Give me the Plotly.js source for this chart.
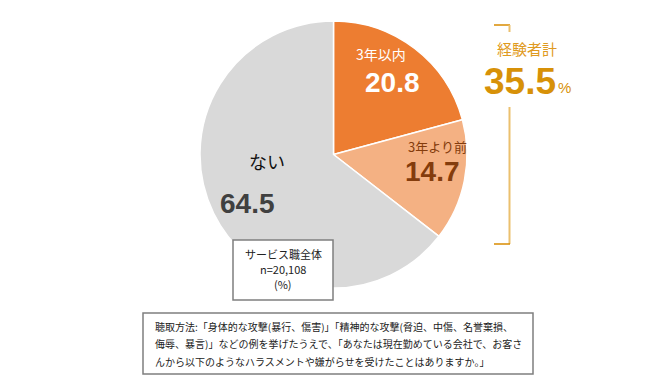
<!DOCTYPE html>
<html>
<head>
<meta charset="utf-8">
<script src="https://cdn.plot.ly/plotly-3.0.1.min.js"></script>
<style>html,body{margin:0;padding:0;background:#fff;}#chart{width:672px;height:390px;}</style>
</head>
<body>
<div id="chart"></div>
<script>
const categories = ['3年以内', '3年より前', 'ない'];
const values = [20.8, 14.7, 64.5];
const sliceColors = ['#ED7D31', '#F4B183', '#D9D9D9'];
const totalLabel = '経験者計';
const sampleLines = ['サービス職全体', 'n=20,108', '(%)'];
const noteLines = [
  '聴取方法:「身体的な攻撃(暴行、傷害)」「精神的な攻撃(脅迫、中傷、名誉棄損、',
  '侮辱、暴言)」などの例を挙げたうえで、「あなたは現在勤めている会社で、お客さ',
  'んから以下のようなハラスメントや嫌がらせを受けたことはありますか。」'
];

const W = 672, H = 390;
const px = x => x / W;
const py = y => 1 - y / H;
const JP = '"Noto Sans CJK JP", "Noto Sans", sans-serif';
const NUM = '"Liberation Sans", Arial, sans-serif';

const total = (values[0] + values[1]).toFixed(1);

const cx = 333.5, cy = 154.5, r = 133.5;

const trace = {
  type: 'pie',
  labels: categories,
  values: values,
  sort: false,
  direction: 'clockwise',
  rotation: 0,
  textinfo: 'none',
  hoverinfo: 'skip',
  marker: {colors: sliceColors, line: {color: '#ffffff', width: 1.5}},
  domain: {x: [px(cx - r), px(cx + r)], y: [py(cy + r), py(cy - r)]},
  showlegend: false
};

function ann(text, x, y, size, color, family, extra) {
  return Object.assign({
    xref: 'paper', yref: 'paper', x: px(x), y: py(y),
    xanchor: 'center', yanchor: 'middle', showarrow: false,
    text: text, font: {size: size, color: color, family: family}
  }, extra || {});
}

const annotations = [
  ann(categories[0], 381, 54, 14, '#ffffff', JP),
  ann('<b>' + values[0].toFixed(1) + '</b>', 392, 82, 28, '#ffffff', NUM),
  ann(categories[1], 437, 146, 13, '#843C0C', JP),
  ann('<b>' + values[1].toFixed(1) + '</b>', 432, 171, 28, '#843C0C', NUM),
  ann(categories[2], 267, 161, 18, '#111111', JP),
  ann('<b>' + values[2].toFixed(1) + '</b>', 247, 203, 28, '#404040', NUM),
  ann(totalLabel, 527, 48, 15, '#DF9A20', JP),
  ann('<b>' + total + '</b>', 520, 81, 37, '#D79108', NUM),
  ann('%', 564, 88, 15, '#D79108', NUM),
  ann(sampleLines[0], 283, 254, 11, '#222222', JP),
  ann(sampleLines[1], 283, 269, 11, '#222222', JP),
  ann(sampleLines[2], 283, 284, 11, '#222222', JP)
];
noteLines.forEach((t, i) => {
  annotations.push(ann(t, 153, 326 + i * 17.5, 10, '#222222', JP, {xanchor: 'left'}));
});

function rect(x0, y0, x1, y1) {
  return {type: 'rect', xref: 'paper', yref: 'paper', x0: px(x0), x1: px(x1), y0: py(y1), y1: py(y0),
    line: {color: '#7f7f7f', width: 1.5}, fillcolor: '#ffffff', layer: 'above'};
}
function line(x0, y0, x1, y1, color, w) {
  return {type: 'line', xref: 'paper', yref: 'paper', x0: px(x0), x1: px(x1), y0: py(y0), y1: py(y1),
    line: {color: color, width: w}, layer: 'above'};
}

const shapes = [
  rect(233, 240, 333, 300),
  rect(143, 313, 533, 374),
  line(494, 25, 510, 25, '#D98B00', 1.5),
  line(509.5, 25, 509.5, 32, '#EBC06E', 2),
  line(509.5, 107, 509.5, 244, '#EBC06E', 2),
  line(494, 244, 510, 244, '#D98B00', 1.5)
];

const layout = {
  width: W, height: H,
  margin: {l: 0, r: 0, t: 0, b: 0},
  paper_bgcolor: '#ffffff',
  showlegend: false,
  annotations: annotations,
  shapes: shapes
};

Plotly.newPlot('chart', [trace], layout, {displayModeBar: false, staticPlot: true});
</script>
</body>
</html>
